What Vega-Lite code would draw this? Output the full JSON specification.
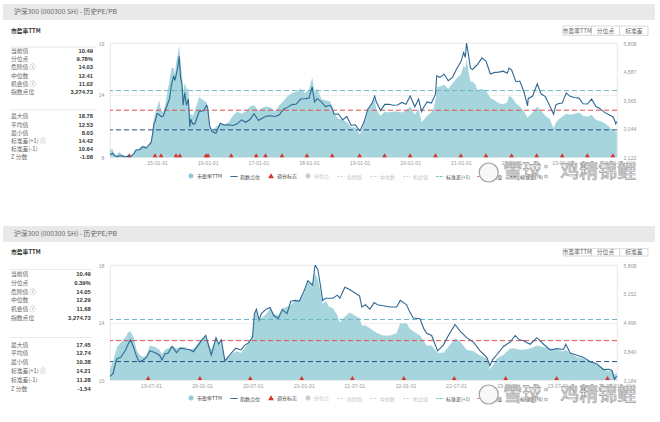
{
"$schema": "https://vega.github.io/schema/vega-lite/v6.json",
"padding": {"left": 3, "top": 4, "right": 0, "bottom": 0},
"background": "#ffffff",
"columns": 2,
"align": "none",
"bounds": "flush",
"spacing": 0,
"resolve": {"scale": {"color": "independent", "fill": "independent", "stroke": "independent", "shape": "independent", "strokeDash": "independent"}, "legend": {"color": "independent", "fill": "independent", "stroke": "independent", "shape": "independent", "strokeDash": "independent"}},
"config": {
  "font": "Noto Sans CJK SC",
  "view": {"stroke": null},
  "axis": {"labelFont": "Liberation Sans", "labelFontSize": 5.2, "labelColor": "#9a9a9a", "domain": false, "ticks": false, "gridColor": "#ececec", "gridWidth": 0.8, "labelOverlap": false},
  "text": {"font": "Noto Sans CJK SC"}
},
"datasets": {
  "leg": [{"s":"市盈率TTM"},{"s":"指数点位"},{"s":"调仓标志"},{"s":"分位点"},{"s":"危险值"},{"s":"中位数"},{"s":"机会值"},{"s":"标准差(+1)"},{"s":"平均值"},{"s":"标准差(-1)"}],
  "btn": [{"b":"市盈率TTM"},{"b":"分位点"},{"b":"标准差"}],
  "hdr": [{"t":"沪深300 (000300 SH) - 历史PE/PB"}],
  "ttl": [{"t":"市盈率TTM"}],
  "wm": [{"t":"雪球：鸡精锦鲤"}],
  "sb1": [{"n":0,"label":"当前值","value":"10.49"},{"n":1,"label":"分位点","value":"9.78%"},{"n":2,"label":"危险值 ⓘ","value":"14.03"},{"n":3,"label":"中位数","value":"12.41"},{"n":4,"label":"机会值 ⓘ","value":"11.02"},{"n":5,"label":"指数点位","value":"3,274.73"},{"n":8,"label":"最大值","value":"18.78"},{"n":9,"label":"平均值","value":"12.53"},{"n":10,"label":"最小值","value":"8.03"},{"n":11,"label":"标准差(+1) ⓘ","value":"14.42"},{"n":12,"label":"标准差(-1)","value":"10.64"},{"n":13,"label":"Z 分数","value":"-1.08"}],
  "sb2": [{"n":0,"label":"当前值","value":"10.49"},{"n":1,"label":"分位点","value":"0.39%"},{"n":2,"label":"危险值 ⓘ","value":"14.05"},{"n":3,"label":"中位数","value":"12.29"},{"n":4,"label":"机会值 ⓘ","value":"11.68"},{"n":5,"label":"指数点位","value":"3,274.73"},{"n":8,"label":"最大值","value":"17.45"},{"n":9,"label":"平均值","value":"12.74"},{"n":10,"label":"最小值","value":"10.38"},{"n":11,"label":"标准差(+1) ⓘ","value":"14.21"},{"n":12,"label":"标准差(-1)","value":"11.28"},{"n":13,"label":"Z 分数","value":"-1.54"}],
  "sep": [{"n":-0.5},{"n":7.2}],
  "ref1": [{"k":"标准差(+1)","v":14.42},{"k":"平均值","v":12.53},{"k":"标准差(-1)","v":10.64}],
  "ref2": [{"k":"标准差(+1)","v":14.21},{"k":"平均值","v":12.74},{"k":"标准差(-1)","v":11.28}],
  "tri1": [{"d":"2014-06-15"},{"d":"2014-12-17"},{"d":"2015-01-30"},{"d":"2015-05-18"},{"d":"2015-06-15"},{"d":"2015-12-20"},{"d":"2016-01-04"},{"d":"2016-06-19"},{"d":"2016-12-16"},{"d":"2017-02-21"},{"d":"2017-06-20"},{"d":"2017-12-17"},{"d":"2018-06-17"},{"d":"2019-01-01"},{"d":"2019-06-30"},{"d":"2019-12-31"},{"d":"2020-07-01"},{"d":"2020-12-31"},{"d":"2021-06-30"},{"d":"2022-01-01"},{"d":"2022-07-01"},{"d":"2023-01-01"},{"d":"2023-07-01"},{"d":"2024-01-01"}],
  "tri2": [{"d":"2019-06-21"},{"d":"2019-12-24"},{"d":"2020-06-22"},{"d":"2020-12-24"},{"d":"2021-06-24"},{"d":"2021-12-26"},{"d":"2022-06-25"},{"d":"2022-12-27"},{"d":"2023-06-28"},{"d":"2023-12-28"}],
  "pe1": [
{"d":"2014-01-28","pe":8.7,"idx":2200},{"d":"2014-02-15","pe":8.8,"idx":2250},{"d":"2014-03-01","pe":8.3,"idx":2180},{"d":"2014-03-15","pe":8.2,"idx":2140},{"d":"2014-04-01","pe":8.5,"idx":2160},{"d":"2014-04-15","pe":8.4,"idx":2170},{"d":"2014-05-01","pe":8.2,"idx":2160},{"d":"2014-05-20","pe":8.1,"idx":2130},{"d":"2014-06-01","pe":8.1,"idx":2160},{"d":"2014-06-20","pe":8.03,"idx":2140},{"d":"2014-07-01","pe":8.1,"idx":2170},{"d":"2014-07-20","pe":8.5,"idx":2250},{"d":"2014-08-01","pe":8.7,"idx":2350},{"d":"2014-09-01","pe":8.9,"idx":2370},{"d":"2014-09-15","pe":9.1,"idx":2450},{"d":"2014-10-01","pe":9.1,"idx":2450},{"d":"2014-10-15","pe":9.0,"idx":2420},{"d":"2014-11-01","pe":9.2,"idx":2510},{"d":"2014-11-20","pe":9.6,"idx":2600},{"d":"2014-12-01","pe":10.8,"idx":2900},{"d":"2014-12-10","pe":11.8,"idx":3200},{"d":"2014-12-20","pe":12.2,"idx":3300},
{"d":"2015-01-01","pe":12.8,"idx":3530},{"d":"2015-01-15","pe":13.5,"idx":3500},{"d":"2015-02-01","pe":12.5,"idx":3430},{"d":"2015-02-15","pe":12.3,"idx":3450},{"d":"2015-03-01","pe":13.0,"idx":3630},{"d":"2015-03-15","pe":14.2,"idx":3800},{"d":"2015-04-01","pe":15.4,"idx":4000},{"d":"2015-04-15","pe":16.6,"idx":4450},{"d":"2015-05-01","pe":16.6,"idx":4750},{"d":"2015-05-10","pe":16.0,"idx":4600},{"d":"2015-05-20","pe":17.2,"idx":4800},{"d":"2015-06-01","pe":18.0,"idx":5050},{"d":"2015-06-10","pe":18.78,"idx":5380},{"d":"2015-06-20","pe":17.0,"idx":4700},{"d":"2015-07-01","pe":15.8,"idx":4450},{"d":"2015-07-08","pe":14.0,"idx":3800},{"d":"2015-07-20","pe":15.2,"idx":4200},{"d":"2015-08-01","pe":14.6,"idx":3800},{"d":"2015-08-15","pe":14.6,"idx":4000},{"d":"2015-08-26","pe":12.0,"idx":3100},{"d":"2015-09-01","pe":12.2,"idx":3350},{"d":"2015-09-15","pe":12.0,"idx":3200},{"d":"2015-10-01","pe":12.5,"idx":3200},{"d":"2015-11-01","pe":13.8,"idx":3600},{"d":"2015-12-01","pe":13.5,"idx":3620},{"d":"2015-12-25","pe":13.3,"idx":3800},
{"d":"2016-01-01","pe":12.6,"idx":3730},{"d":"2016-01-15","pe":11.0,"idx":3150},{"d":"2016-02-01","pe":10.5,"idx":2950},{"d":"2016-03-01","pe":10.9,"idx":2900},{"d":"2016-04-01","pe":11.3,"idx":3220},{"d":"2016-05-01","pe":11.1,"idx":3160},{"d":"2016-06-01","pe":11.4,"idx":3170},{"d":"2016-07-01","pe":12.0,"idx":3150},{"d":"2016-08-01","pe":12.4,"idx":3200},{"d":"2016-09-01","pe":12.2,"idx":3330},{"d":"2016-10-01","pe":12.4,"idx":3250},{"d":"2016-11-01","pe":12.9,"idx":3340},{"d":"2016-12-01","pe":13.0,"idx":3530},
{"d":"2017-01-01","pe":12.5,"idx":3310},{"d":"2017-02-01","pe":12.8,"idx":3390},{"d":"2017-03-01","pe":12.9,"idx":3450},{"d":"2017-04-01","pe":12.8,"idx":3460},{"d":"2017-05-01","pe":12.4,"idx":3440},{"d":"2017-06-01","pe":13.0,"idx":3490},{"d":"2017-07-01","pe":13.4,"idx":3670},{"d":"2017-08-01","pe":13.9,"idx":3740},{"d":"2017-09-01","pe":14.2,"idx":3820},{"d":"2017-10-01","pe":14.3,"idx":3840},{"d":"2017-11-01","pe":14.6,"idx":4000},{"d":"2017-12-01","pe":14.2,"idx":4010},
{"d":"2018-01-01","pe":14.5,"idx":4030},{"d":"2018-01-24","pe":15.7,"idx":4390},{"d":"2018-02-10","pe":14.3,"idx":3900},{"d":"2018-03-01","pe":14.6,"idx":4020},{"d":"2018-04-01","pe":13.6,"idx":3900},{"d":"2018-05-01","pe":13.5,"idx":3760},{"d":"2018-06-01","pe":13.4,"idx":3800},{"d":"2018-06-15","pe":13.0,"idx":3720},{"d":"2018-07-01","pe":12.2,"idx":3510},{"d":"2018-08-01","pe":11.7,"idx":3520},{"d":"2018-09-01","pe":11.6,"idx":3330},{"d":"2018-10-01","pe":11.4,"idx":3440},{"d":"2018-11-01","pe":10.9,"idx":3150},{"d":"2018-12-01","pe":10.9,"idx":3170},
{"d":"2019-01-03","pe":10.2,"idx":2970},{"d":"2019-02-01","pe":11.2,"idx":3250},{"d":"2019-03-01","pe":12.4,"idx":3670},{"d":"2019-04-01","pe":13.3,"idx":3870},{"d":"2019-04-20","pe":13.6,"idx":4100},{"d":"2019-05-01","pe":12.6,"idx":3910},{"d":"2019-06-01","pe":12.0,"idx":3630},{"d":"2019-07-01","pe":12.4,"idx":3830},{"d":"2019-08-01","pe":12.3,"idx":3830},{"d":"2019-09-01","pe":12.4,"idx":3800},{"d":"2019-10-01","pe":12.4,"idx":3810},{"d":"2019-11-01","pe":12.3,"idx":3890},{"d":"2019-12-01","pe":12.5,"idx":3830},
{"d":"2020-01-01","pe":12.9,"idx":4100},{"d":"2020-02-03","pe":12.1,"idx":3750},{"d":"2020-03-01","pe":12.7,"idx":4000},{"d":"2020-03-23","pe":11.4,"idx":3600},{"d":"2020-04-01","pe":11.5,"idx":3690},{"d":"2020-05-01","pe":12.0,"idx":3910},{"d":"2020-06-01","pe":12.3,"idx":3870},{"d":"2020-06-15","pe":12.6,"idx":4000},{"d":"2020-07-01","pe":13.5,"idx":4160},{"d":"2020-07-10","pe":14.8,"idx":4750},{"d":"2020-08-01","pe":14.8,"idx":4700},{"d":"2020-09-01","pe":15.0,"idx":4800},{"d":"2020-10-01","pe":14.6,"idx":4590},{"d":"2020-11-01","pe":15.1,"idx":4700},{"d":"2020-12-01","pe":15.6,"idx":4980},
{"d":"2021-01-01","pe":16.0,"idx":5210},{"d":"2021-01-20","pe":16.8,"idx":5500},{"d":"2021-02-01","pe":16.6,"idx":5350},{"d":"2021-02-10","pe":17.45,"idx":5807},{"d":"2021-02-25","pe":16.2,"idx":5400},{"d":"2021-03-10","pe":15.3,"idx":5000},{"d":"2021-03-25","pe":15.3,"idx":4950},{"d":"2021-04-15","pe":15.0,"idx":5050},{"d":"2021-05-01","pe":14.4,"idx":5120},{"d":"2021-06-01","pe":14.6,"idx":5330},{"d":"2021-07-01","pe":14.4,"idx":5220},{"d":"2021-08-01","pe":13.7,"idx":4810},{"d":"2021-09-01","pe":13.5,"idx":4860},{"d":"2021-10-01","pe":13.2,"idx":4870},{"d":"2021-11-01","pe":13.1,"idx":4900},{"d":"2021-12-01","pe":13.3,"idx":4830},{"d":"2021-12-13","pe":13.9,"idx":5000},
{"d":"2022-01-01","pe":13.8,"idx":4940},{"d":"2022-02-01","pe":13.2,"idx":4560},{"d":"2022-03-01","pe":12.9,"idx":4580},{"d":"2022-04-01","pe":12.4,"idx":4220},{"d":"2022-04-26","pe":11.8,"idx":3780},{"d":"2022-05-01","pe":11.9,"idx":4020},{"d":"2022-06-01","pe":12.3,"idx":4090},{"d":"2022-07-05","pe":12.9,"idx":4490},{"d":"2022-08-01","pe":12.5,"idx":4170},{"d":"2022-09-01","pe":12.0,"idx":4080},{"d":"2022-10-01","pe":11.7,"idx":3800},{"d":"2022-10-31","pe":10.8,"idx":3510},{"d":"2022-11-15","pe":11.3,"idx":3800},{"d":"2022-12-01","pe":11.6,"idx":3850},
{"d":"2023-01-01","pe":11.9,"idx":3870},{"d":"2023-01-30","pe":12.2,"idx":4200},{"d":"2023-03-01","pe":12.1,"idx":4080},{"d":"2023-04-01","pe":12.2,"idx":4050},{"d":"2023-05-01","pe":12.3,"idx":4030},{"d":"2023-06-01","pe":12.0,"idx":3850},{"d":"2023-07-01","pe":11.9,"idx":3840},{"d":"2023-08-01","pe":12.1,"idx":4000},{"d":"2023-09-01","pe":11.6,"idx":3760},{"d":"2023-10-01","pe":11.5,"idx":3690},{"d":"2023-11-01","pe":11.3,"idx":3570},{"d":"2023-12-01","pe":11.0,"idx":3500},
{"d":"2024-01-01","pe":10.6,"idx":3430},{"d":"2024-01-15","pe":10.6,"idx":3300},{"d":"2024-01-22","pe":10.38,"idx":3200},{"d":"2024-01-30","pe":10.49,"idx":3275}
  ],
  "pe2": [
{"d":"2019-01-25","pe":10.45,"idx":3200},{"d":"2019-02-01","pe":10.6,"idx":3250},{"d":"2019-02-15","pe":11.3,"idx":3330},{"d":"2019-02-25","pe":12.0,"idx":3600},{"d":"2019-03-01","pe":12.3,"idx":3670},{"d":"2019-03-15","pe":12.6,"idx":3700},{"d":"2019-04-01","pe":13.0,"idx":3870},{"d":"2019-04-10","pe":13.3,"idx":4000},{"d":"2019-04-19","pe":13.4,"idx":4100},{"d":"2019-05-01","pe":12.9,"idx":3910},{"d":"2019-05-10","pe":12.1,"idx":3730},{"d":"2019-05-20","pe":11.8,"idx":3600},{"d":"2019-06-01","pe":11.6,"idx":3630},{"d":"2019-06-15","pe":11.7,"idx":3700},{"d":"2019-06-27","pe":12.4,"idx":3850},{"d":"2019-07-15","pe":12.3,"idx":3810},{"d":"2019-08-01","pe":12.1,"idx":3750},{"d":"2019-08-10","pe":11.8,"idx":3640},{"d":"2019-08-20","pe":12.1,"idx":3780},{"d":"2019-09-01","pe":12.2,"idx":3800},{"d":"2019-09-15","pe":12.4,"idx":3950},{"d":"2019-10-01","pe":12.2,"idx":3810},{"d":"2019-10-15","pe":12.3,"idx":3910},{"d":"2019-11-01","pe":12.3,"idx":3890},{"d":"2019-11-15","pe":12.1,"idx":3880},{"d":"2019-12-01","pe":12.2,"idx":3830},{"d":"2019-12-15","pe":12.5,"idx":3950},
{"d":"2020-01-01","pe":12.9,"idx":4100},{"d":"2020-01-14","pe":13.0,"idx":4200},{"d":"2020-01-23","pe":12.6,"idx":4000},{"d":"2020-02-03","pe":12.1,"idx":3750},{"d":"2020-02-20","pe":12.9,"idx":4150},{"d":"2020-03-01","pe":12.4,"idx":4000},{"d":"2020-03-10","pe":12.6,"idx":4100},{"d":"2020-03-23","pe":11.4,"idx":3620},{"d":"2020-04-01","pe":11.5,"idx":3690},{"d":"2020-04-15","pe":11.8,"idx":3800},{"d":"2020-05-01","pe":12.0,"idx":3910},{"d":"2020-05-20","pe":11.9,"idx":3870},{"d":"2020-06-01","pe":12.2,"idx":3970},{"d":"2020-06-15","pe":12.6,"idx":4030},{"d":"2020-06-30","pe":13.0,"idx":4160},{"d":"2020-07-07","pe":14.6,"idx":4700},{"d":"2020-07-14","pe":14.8,"idx":4800},{"d":"2020-07-24","pe":14.1,"idx":4550},{"d":"2020-08-01","pe":14.3,"idx":4700},{"d":"2020-08-18","pe":14.6,"idx":4800},{"d":"2020-09-01","pe":15.0,"idx":4840},{"d":"2020-09-15","pe":14.6,"idx":4650},{"d":"2020-10-01","pe":14.5,"idx":4590},{"d":"2020-10-15","pe":15.0,"idx":4790},{"d":"2020-11-01","pe":15.1,"idx":4700},{"d":"2020-11-15","pe":15.2,"idx":4980},{"d":"2020-12-01","pe":15.6,"idx":5000},{"d":"2020-12-15","pe":15.5,"idx":4980},
{"d":"2021-01-01","pe":16.0,"idx":5210},{"d":"2021-01-15","pe":16.8,"idx":5450},{"d":"2021-02-01","pe":16.7,"idx":5350},{"d":"2021-02-10","pe":17.45,"idx":5807},{"d":"2021-02-20","pe":17.0,"idx":5700},{"d":"2021-03-01","pe":16.2,"idx":5350},{"d":"2021-03-09","pe":15.3,"idx":5000},{"d":"2021-03-20","pe":15.5,"idx":5050},{"d":"2021-04-01","pe":15.1,"idx":5050},{"d":"2021-04-15","pe":15.0,"idx":5050},{"d":"2021-05-01","pe":14.5,"idx":5120},{"d":"2021-05-10","pe":14.0,"idx":5050},{"d":"2021-05-28","pe":14.4,"idx":5300},{"d":"2021-06-14","pe":14.7,"idx":5250},{"d":"2021-07-01","pe":14.5,"idx":5180},{"d":"2021-07-20","pe":14.3,"idx":5100},{"d":"2021-07-28","pe":13.8,"idx":4850},{"d":"2021-08-10","pe":13.8,"idx":4900},{"d":"2021-08-26","pe":13.6,"idx":4800},{"d":"2021-09-10","pe":13.4,"idx":4950},{"d":"2021-09-22","pe":13.25,"idx":4900},{"d":"2021-10-13","pe":13.1,"idx":4880},{"d":"2021-11-06","pe":13.1,"idx":4850},{"d":"2021-11-30","pe":13.25,"idx":4850},{"d":"2021-12-13","pe":13.95,"idx":5000},
{"d":"2022-01-05","pe":13.95,"idx":4900},{"d":"2022-01-15","pe":13.6,"idx":4750},{"d":"2022-01-29","pe":13.4,"idx":4600},{"d":"2022-02-22","pe":13.1,"idx":4580},{"d":"2022-03-08","pe":12.7,"idx":4350},{"d":"2022-03-18","pe":12.4,"idx":4250},{"d":"2022-04-05","pe":12.4,"idx":4200},{"d":"2022-04-26","pe":11.9,"idx":3850},{"d":"2022-05-17","pe":11.9,"idx":3980},{"d":"2022-06-04","pe":12.3,"idx":4200},{"d":"2022-06-28","pe":12.9,"idx":4450},{"d":"2022-07-16","pe":12.7,"idx":4300},{"d":"2022-08-09","pe":12.1,"idx":4150},{"d":"2022-09-02","pe":12.0,"idx":4050},{"d":"2022-09-26","pe":11.7,"idx":3850},{"d":"2022-10-20","pe":11.5,"idx":3700},{"d":"2022-10-31","pe":10.75,"idx":3510},{"d":"2022-11-10","pe":11.0,"idx":3650},{"d":"2022-11-25","pe":11.5,"idx":3760},{"d":"2022-12-19","pe":11.75,"idx":3950},
{"d":"2023-01-12","pe":12.2,"idx":4050},{"d":"2023-01-30","pe":12.2,"idx":4200},{"d":"2023-02-15","pe":12.1,"idx":4100},{"d":"2023-03-01","pe":12.1,"idx":4080},{"d":"2023-03-25","pe":12.2,"idx":4000},{"d":"2023-04-18","pe":12.4,"idx":4150},{"d":"2023-05-12","pe":12.3,"idx":4000},{"d":"2023-06-05","pe":12.2,"idx":3870},{"d":"2023-06-29","pe":12.1,"idx":3900},{"d":"2023-07-23","pe":12.0,"idx":3880},{"d":"2023-07-31","pe":12.1,"idx":4000},{"d":"2023-08-16","pe":11.85,"idx":3800},{"d":"2023-09-09","pe":11.6,"idx":3750},{"d":"2023-10-03","pe":11.5,"idx":3700},{"d":"2023-10-27","pe":11.3,"idx":3600},{"d":"2023-11-20","pe":11.05,"idx":3550},{"d":"2023-12-14","pe":10.8,"idx":3420},
{"d":"2024-01-01","pe":10.6,"idx":3430},{"d":"2024-01-13","pe":10.7,"idx":3400},{"d":"2024-01-22","pe":10.38,"idx":3200},{"d":"2024-01-30","pe":10.49,"idx":3275}
  ]
},
"concat": [
  {"width": 107, "height": 38.7, "layer": [
    {"data": {"name": "hdr"}, "mark": {"type": "rect", "fill": "#e9e9e9"}, "encoding": {"y": {"datum": 0, "type": "quantitative", "scale": {"domain": [0, 1], "reverse": true}, "axis": null}, "y2": {"datum": 0.4134}}},
    {"data": {"name": "ttl"}, "mark": {"type": "text", "align": "left", "baseline": "middle", "dx": 8, "fontSize": 5.8, "fontWeight": "bold", "color": "#333333"}, "encoding": {"x": {"datum": 0, "type": "quantitative", "scale": {"domain": [0, 1]}, "axis": null}, "y": {"datum": 0.6886, "type": "quantitative", "axis": null}, "text": {"field": "t"}}}
  ]},
  {"width": 545, "height": 38.7, "layer": [
    {"data": {"name": "hdr"}, "mark": {"type": "rect", "fill": "#e9e9e9"}, "encoding": {"y": {"datum": 0, "type": "quantitative", "scale": {"domain": [0, 1], "reverse": true}, "axis": null}, "y2": {"datum": 0.4134}}},
    {"data": {"name": "hdr"}, "mark": {"type": "text", "align": "left", "baseline": "middle", "dx": -96, "fontSize": 6.8, "color": "#666666"}, "encoding": {"x": {"datum": 0, "type": "quantitative", "scale": {"domain": [0, 1]}, "axis": null}, "y": {"datum": 0.2067, "type": "quantitative", "axis": null}, "text": {"field": "t"}}},
    {"data": {"name": "btn"}, "mark": {"type": "rect", "fill": "#ffffff", "stroke": "#d0d0d0", "strokeWidth": 0.8}, "encoding": {"x": {"field": "b", "type": "nominal", "sort": null, "scale": {"type": "band", "paddingInner": 0, "paddingOuter": 0, "range": [453, 538]}, "axis": null}, "y": {"datum": 0.5685, "type": "quantitative", "axis": null}, "y2": {"datum": 0.8088}}},
    {"data": {"name": "btn"}, "mark": {"type": "text", "baseline": "middle", "fontSize": 5.8, "color": "#666666"}, "encoding": {"x": {"field": "b", "type": "nominal", "sort": null, "scale": {"type": "band", "paddingInner": 0, "paddingOuter": 0, "range": [453, 538]}, "axis": null}, "y": {"datum": 0.6886, "type": "quantitative", "axis": null}, "text": {"field": "b"}}}
  ]},
  {"width": 107, "height": 114.3, "layer": [
    {"data": {"name": "sb1"}, "mark": {"type": "text", "align": "left", "baseline": "middle", "dx": 8, "fontSize": 5.8, "color": "#666666"}, "encoding": {"x": {"datum": 0, "type": "quantitative", "scale": {"domain": [0, 1]}, "axis": null}, "y": {"field": "n", "type": "quantitative", "scale": {"domain": [-0.565, 12.35], "reverse": true}, "axis": null}, "text": {"field": "label"}}},
    {"data": {"name": "sb1"}, "mark": {"type": "text", "align": "right", "baseline": "middle", "dx": -17, "fontSize": 5.8, "fontWeight": "bold", "color": "#333333", "font": "Liberation Sans"}, "encoding": {"x": {"datum": 1, "type": "quantitative", "axis": null}, "y": {"field": "n", "type": "quantitative", "axis": null}, "text": {"field": "value"}}},
    {"data": {"name": "sep"}, "mark": {"type": "rule", "color": "#e3e3e3", "strokeWidth": 0.8}, "encoding": {"x": {"datum": 0.065, "type": "quantitative", "axis": null}, "x2": {"datum": 0.87}, "y": {"field": "n", "type": "quantitative", "axis": null}}}
  ]},
  {"width": 507, "height": 114.3, "view": {"stroke": "#e2e2e2", "strokeWidth": 0.8}, "resolve": {"scale": {"y": "independent"}}, "layer": [
    {"layer": [
      {"data": {"name": "pe1"}, "mark": {"type": "area", "color": "#a6d5dd", "opacity": 1, "clip": true}, "encoding": {
        "x": {"field": "d", "type": "temporal", "title": null, "scale": {"domain": [{"year": 2014, "month": 1, "date": 27}, {"year": 2024, "month": 1, "date": 31}]}, "axis": {"values": [{"year": 2015, "month": 1, "date": 1}, {"year": 2016, "month": 1, "date": 1}, {"year": 2017, "month": 1, "date": 1}, {"year": 2018, "month": 1, "date": 1}, {"year": 2019, "month": 1, "date": 1}, {"year": 2020, "month": 1, "date": 1}, {"year": 2021, "month": 1, "date": 1}, {"year": 2022, "month": 1, "date": 1}, {"year": 2023, "month": 1, "date": 1}, {"year": 2024, "month": 1, "date": 1}], "format": "%y-%m-%d", "labelPadding": 3, "grid": false}},
        "y": {"field": "pe", "type": "quantitative", "title": null, "scale": {"domain": [8, 19], "zero": false, "nice": false}, "axis": {"values": [8, 11, 14, 17, 19], "grid": true, "labelPadding": 6}}}},
      {"data": {"name": "ref1"}, "mark": {"type": "rule", "strokeDash": [5, 3], "strokeWidth": 1}, "encoding": {"y": {"field": "v", "type": "quantitative", "title": null}, "color": {"field": "k", "type": "nominal", "scale": {"domain": ["标准差(+1)", "平均值", "标准差(-1)"], "range": ["#6db5c3", "#e0524d", "#2d4f80"]}, "legend": null}}},
      {"data": {"name": "tri1"}, "mark": {"type": "point", "shape": "triangle-up", "filled": true, "color": "#d8332d", "size": 22, "opacity": 1, "yOffset": -2}, "encoding": {"x": {"field": "d", "type": "temporal", "title": null}, "y": {"value": "height"}}}
    ]},
    {"data": {"name": "pe1"}, "mark": {"type": "line", "color": "#2f6893", "strokeWidth": 1.1, "clip": true}, "encoding": {"x": {"field": "d", "type": "temporal", "title": null}, "y": {"field": "idx", "type": "quantitative", "title": null, "scale": {"domain": [2122, 5808], "zero": false, "nice": false}, "axis": {"orient": "right", "values": [2122, 3044, 3965, 4887, 5808], "format": ",.0f", "grid": false, "labelPadding": 6}}}},
    {"data": {"name": "leg"}, "mark": {"type": "point", "opacity": 0}, "encoding": {
      "fill": {"field": "s", "type": "nominal", "scale": {"domain": ["市盈率TTM","指数点位","调仓标志","分位点","危险值","中位数","机会值","标准差(+1)","平均值","标准差(-1)"], "range": ["#8fcad5","#2f6893","#d8332d","#cccccc","#cfcfcf","#cfcfcf","#cfcfcf","#5fa9b8","#e0524d","#2d4f80"]}, "legend": {"title": null, "orient": "none", "legendX": 78, "legendY": 129.5, "direction": "horizontal", "labelFontSize": 5, "labelFont": "Noto Sans CJK SC", "symbolSize": 16, "symbolStrokeWidth": 1.1, "columnPadding": 5, "labelOffset": 3, "padding": 0, "encode": {"labels": {"update": {"fill": {"signal": "indexof(['分位点','危险值','中位数','机会值'], datum.label) >= 0 ? '#c4c4c4' : '#444444'"}}}}}},
      "stroke": {"field": "s", "type": "nominal", "scale": {"domain": ["市盈率TTM","指数点位","调仓标志","分位点","危险值","中位数","机会值","标准差(+1)","平均值","标准差(-1)"], "range": ["#8fcad5","#2f6893","#d8332d","#cccccc","#cfcfcf","#cfcfcf","#cfcfcf","#5fa9b8","#e0524d","#2d4f80"]}, "legend": {"title": null, "orient": "none", "legendX": 78, "legendY": 129.5, "direction": "horizontal", "labelFontSize": 5, "labelFont": "Noto Sans CJK SC", "symbolSize": 16, "symbolStrokeWidth": 1.1, "columnPadding": 5, "labelOffset": 3, "padding": 0}},
      "shape": {"field": "s", "type": "nominal", "scale": {"domain": ["市盈率TTM","指数点位","调仓标志","分位点","危险值","中位数","机会值","标准差(+1)","平均值","标准差(-1)"], "range": ["circle","M-1.8,0H1.8","triangle-up","circle","M-1.8,0H1.8","M-1.8,0H1.8","M-1.8,0H1.8","M-1.8,0H1.8","M-1.8,0H1.8","M-1.8,0H1.8"]}, "legend": {"title": null, "orient": "none", "legendX": 78, "legendY": 129.5, "direction": "horizontal", "labelFontSize": 5, "labelFont": "Noto Sans CJK SC", "symbolSize": 16, "symbolStrokeWidth": 1.1, "columnPadding": 5, "labelOffset": 3, "padding": 0}},
      "strokeDash": {"field": "s", "type": "nominal", "scale": {"domain": ["市盈率TTM","指数点位","调仓标志","分位点","危险值","中位数","机会值","标准差(+1)","平均值","标准差(-1)"], "range": [[1,0],[1,0],[1,0],[1,0],[2,1.3],[2,1.3],[2,1.3],[2,1.3],[2,1.3],[2,1.3]]}, "legend": {"title": null, "orient": "none", "legendX": 78, "legendY": 129.5, "direction": "horizontal", "labelFontSize": 5, "labelFont": "Noto Sans CJK SC", "symbolSize": 16, "symbolStrokeWidth": 1.1, "columnPadding": 5, "labelOffset": 3, "padding": 0}}
    }}
  ]},
  {"width": 107, "height": 68, "data": {"values": []}, "mark": "rect"},
  {"width": 545, "height": 68, "data": {"name": "wm"}, "layer": [
    {"mark": {"type": "point", "shape": "circle", "size": 360, "filled": true, "fill": "#f8f8f8", "stroke": "#a3a3a3", "strokeWidth": 1.2, "opacity": 1}, "encoding": {"x": {"datum": 0.6949, "type": "quantitative", "scale": {"domain": [0, 1]}, "axis": null}, "y": {"datum": 0.2132, "type": "quantitative", "scale": {"domain": [0, 1], "reverse": true}, "axis": null}}},
    {"mark": {"type": "text", "align": "left", "baseline": "middle", "fontSize": 19, "fill": "#f4f4f4", "stroke": "#9c9c9c", "strokeWidth": 0.7}, "encoding": {"x": {"datum": 0.7217, "type": "quantitative", "axis": null}, "y": {"datum": 0.2132, "type": "quantitative", "axis": null}, "text": {"field": "t"}}}
  ]},
  {"width": 107, "height": 38.3, "layer": [
    {"data": {"name": "hdr"}, "mark": {"type": "rect", "fill": "#e9e9e9"}, "encoding": {"y": {"datum": 0, "type": "quantitative", "scale": {"domain": [0, 1], "reverse": true}, "axis": null}, "y2": {"datum": 0.4178}}},
    {"data": {"name": "ttl"}, "mark": {"type": "text", "align": "left", "baseline": "middle", "dx": 8, "fontSize": 5.8, "fontWeight": "bold", "color": "#333333"}, "encoding": {"x": {"datum": 0, "type": "quantitative", "scale": {"domain": [0, 1]}, "axis": null}, "y": {"datum": 0.671, "type": "quantitative", "axis": null}, "text": {"field": "t"}}}
  ]},
  {"width": 545, "height": 38.3, "layer": [
    {"data": {"name": "hdr"}, "mark": {"type": "rect", "fill": "#e9e9e9"}, "encoding": {"y": {"datum": 0, "type": "quantitative", "scale": {"domain": [0, 1], "reverse": true}, "axis": null}, "y2": {"datum": 0.4178}}},
    {"data": {"name": "hdr"}, "mark": {"type": "text", "align": "left", "baseline": "middle", "dx": -96, "fontSize": 6.8, "color": "#666666"}, "encoding": {"x": {"datum": 0, "type": "quantitative", "scale": {"domain": [0, 1]}, "axis": null}, "y": {"datum": 0.2089, "type": "quantitative", "axis": null}, "text": {"field": "t"}}},
    {"data": {"name": "btn"}, "mark": {"type": "rect", "fill": "#ffffff", "stroke": "#d0d0d0", "strokeWidth": 0.8}, "encoding": {"x": {"field": "b", "type": "nominal", "sort": null, "scale": {"type": "band", "paddingInner": 0, "paddingOuter": 0, "range": [453, 538]}, "axis": null}, "y": {"datum": 0.5927, "type": "quantitative", "axis": null}, "y2": {"datum": 0.7833}}},
    {"data": {"name": "btn"}, "mark": {"type": "text", "baseline": "middle", "fontSize": 5.8, "color": "#666666"}, "encoding": {"x": {"field": "b", "type": "nominal", "sort": null, "scale": {"type": "band", "paddingInner": 0, "paddingOuter": 0, "range": [453, 538]}, "axis": null}, "y": {"datum": 0.688, "type": "quantitative", "axis": null}, "text": {"field": "b"}}}
  ]},
  {"width": 107, "height": 115, "layer": [
    {"data": {"name": "sb2"}, "mark": {"type": "text", "align": "left", "baseline": "middle", "dx": 8, "fontSize": 5.8, "color": "#666666"}, "encoding": {"x": {"datum": 0, "type": "quantitative", "scale": {"domain": [0, 1]}, "axis": null}, "y": {"field": "n", "type": "quantitative", "scale": {"domain": [-0.545, 11.98], "reverse": true}, "axis": null}, "text": {"field": "label"}}},
    {"data": {"name": "sb2"}, "mark": {"type": "text", "align": "right", "baseline": "middle", "dx": -19.3, "fontSize": 5.8, "fontWeight": "bold", "color": "#333333", "font": "Liberation Sans"}, "encoding": {"x": {"datum": 1, "type": "quantitative", "axis": null}, "y": {"field": "n", "type": "quantitative", "axis": null}, "text": {"field": "value"}}},
    {"data": {"name": "sep"}, "mark": {"type": "rule", "color": "#e3e3e3", "strokeWidth": 0.8}, "encoding": {"x": {"datum": 0.065, "type": "quantitative", "axis": null}, "x2": {"datum": 0.84}, "y": {"field": "n", "type": "quantitative", "axis": null}}}
  ]},
  {"width": 507, "height": 115, "view": {"stroke": "#e2e2e2", "strokeWidth": 0.8}, "resolve": {"scale": {"y": "independent"}}, "layer": [
    {"layer": [
      {"data": {"name": "pe2"}, "mark": {"type": "area", "color": "#a6d5dd", "opacity": 1, "clip": true}, "encoding": {
        "x": {"field": "d", "type": "temporal", "title": null, "scale": {"domain": [{"year": 2019, "month": 2, "date": 4}, {"year": 2024, "month": 1, "date": 31}]}, "axis": {"values": [{"year": 2019, "month": 7, "date": 1}, {"year": 2020, "month": 1, "date": 1}, {"year": 2020, "month": 7, "date": 1}, {"year": 2021, "month": 1, "date": 1}, {"year": 2021, "month": 7, "date": 1}, {"year": 2022, "month": 1, "date": 1}, {"year": 2022, "month": 7, "date": 1}, {"year": 2023, "month": 1, "date": 1}, {"year": 2023, "month": 7, "date": 1}, {"year": 2024, "month": 1, "date": 1}], "format": "%y-%m-%d", "labelPadding": 3, "grid": false}},
        "y": {"field": "pe", "type": "quantitative", "title": null, "scale": {"domain": [10, 18], "zero": false, "nice": false}, "axis": {"values": [10, 12, 14, 16, 18], "grid": true, "labelPadding": 6}}}},
      {"data": {"name": "ref2"}, "mark": {"type": "rule", "strokeDash": [5, 3], "strokeWidth": 1}, "encoding": {"y": {"field": "v", "type": "quantitative", "title": null}, "color": {"field": "k", "type": "nominal", "scale": {"domain": ["标准差(+1)", "平均值", "标准差(-1)"], "range": ["#6db5c3", "#e0524d", "#2d4f80"]}, "legend": null}}},
      {"data": {"name": "tri2"}, "mark": {"type": "point", "shape": "triangle-up", "filled": true, "color": "#d8332d", "size": 22, "opacity": 1, "yOffset": -2}, "encoding": {"x": {"field": "d", "type": "temporal", "title": null}, "y": {"value": "height"}}}
    ]},
    {"data": {"name": "pe2"}, "mark": {"type": "line", "color": "#2f6893", "strokeWidth": 1.1, "clip": true}, "encoding": {"x": {"field": "d", "type": "temporal", "title": null}, "y": {"field": "idx", "type": "quantitative", "title": null, "scale": {"domain": [3184, 5808], "zero": false, "nice": false}, "axis": {"orient": "right", "values": [3184, 3840, 4496, 5152, 5808], "format": ",.0f", "grid": false, "labelPadding": 6}}}},
    {"data": {"name": "leg"}, "mark": {"type": "point", "opacity": 0}, "encoding": {
      "fill": {"field": "s", "type": "nominal", "scale": {"domain": ["市盈率TTM","指数点位","调仓标志","分位点","危险值","中位数","机会值","标准差(+1)","平均值","标准差(-1)"], "range": ["#8fcad5","#2f6893","#d8332d","#cccccc","#cfcfcf","#cfcfcf","#cfcfcf","#5fa9b8","#e0524d","#2d4f80"]}, "legend": {"title": null, "orient": "none", "legendX": 78, "legendY": 129.5, "direction": "horizontal", "labelFontSize": 5, "labelFont": "Noto Sans CJK SC", "symbolSize": 16, "symbolStrokeWidth": 1.1, "columnPadding": 5, "labelOffset": 3, "padding": 0, "encode": {"labels": {"update": {"fill": {"signal": "indexof(['分位点','危险值','中位数','机会值'], datum.label) >= 0 ? '#c4c4c4' : '#444444'"}}}}}},
      "stroke": {"field": "s", "type": "nominal", "scale": {"domain": ["市盈率TTM","指数点位","调仓标志","分位点","危险值","中位数","机会值","标准差(+1)","平均值","标准差(-1)"], "range": ["#8fcad5","#2f6893","#d8332d","#cccccc","#cfcfcf","#cfcfcf","#cfcfcf","#5fa9b8","#e0524d","#2d4f80"]}, "legend": {"title": null, "orient": "none", "legendX": 78, "legendY": 129.5, "direction": "horizontal", "labelFontSize": 5, "labelFont": "Noto Sans CJK SC", "symbolSize": 16, "symbolStrokeWidth": 1.1, "columnPadding": 5, "labelOffset": 3, "padding": 0}},
      "shape": {"field": "s", "type": "nominal", "scale": {"domain": ["市盈率TTM","指数点位","调仓标志","分位点","危险值","中位数","机会值","标准差(+1)","平均值","标准差(-1)"], "range": ["circle","M-1.8,0H1.8","triangle-up","circle","M-1.8,0H1.8","M-1.8,0H1.8","M-1.8,0H1.8","M-1.8,0H1.8","M-1.8,0H1.8","M-1.8,0H1.8"]}, "legend": {"title": null, "orient": "none", "legendX": 78, "legendY": 129.5, "direction": "horizontal", "labelFontSize": 5, "labelFont": "Noto Sans CJK SC", "symbolSize": 16, "symbolStrokeWidth": 1.1, "columnPadding": 5, "labelOffset": 3, "padding": 0}},
      "strokeDash": {"field": "s", "type": "nominal", "scale": {"domain": ["市盈率TTM","指数点位","调仓标志","分位点","危险值","中位数","机会值","标准差(+1)","平均值","标准差(-1)"], "range": [[1,0],[1,0],[1,0],[1,0],[2,1.3],[2,1.3],[2,1.3],[2,1.3],[2,1.3],[2,1.3]]}, "legend": {"title": null, "orient": "none", "legendX": 78, "legendY": 129.5, "direction": "horizontal", "labelFontSize": 5, "labelFont": "Noto Sans CJK SC", "symbolSize": 16, "symbolStrokeWidth": 1.1, "columnPadding": 5, "labelOffset": 3, "padding": 0}}
    }}
  ]},
  {"width": 107, "height": 20, "data": {"values": []}, "mark": "rect"},
  {"width": 545, "height": 20, "data": {"name": "wm"}, "layer": [
    {"mark": {"type": "point", "shape": "circle", "size": 360, "filled": true, "fill": "#f8f8f8", "stroke": "#a3a3a3", "strokeWidth": 1.2, "opacity": 1}, "encoding": {"x": {"datum": 0.6949, "type": "quantitative", "scale": {"domain": [0, 1]}, "axis": null}, "y": {"datum": 0.725, "type": "quantitative", "scale": {"domain": [0, 1], "reverse": true}, "axis": null}}},
    {"mark": {"type": "text", "align": "left", "baseline": "middle", "fontSize": 19, "fill": "#f4f4f4", "stroke": "#9c9c9c", "strokeWidth": 0.7}, "encoding": {"x": {"datum": 0.7217, "type": "quantitative", "axis": null}, "y": {"datum": 0.725, "type": "quantitative", "axis": null}, "text": {"field": "t"}}}
  ]}
]
}
